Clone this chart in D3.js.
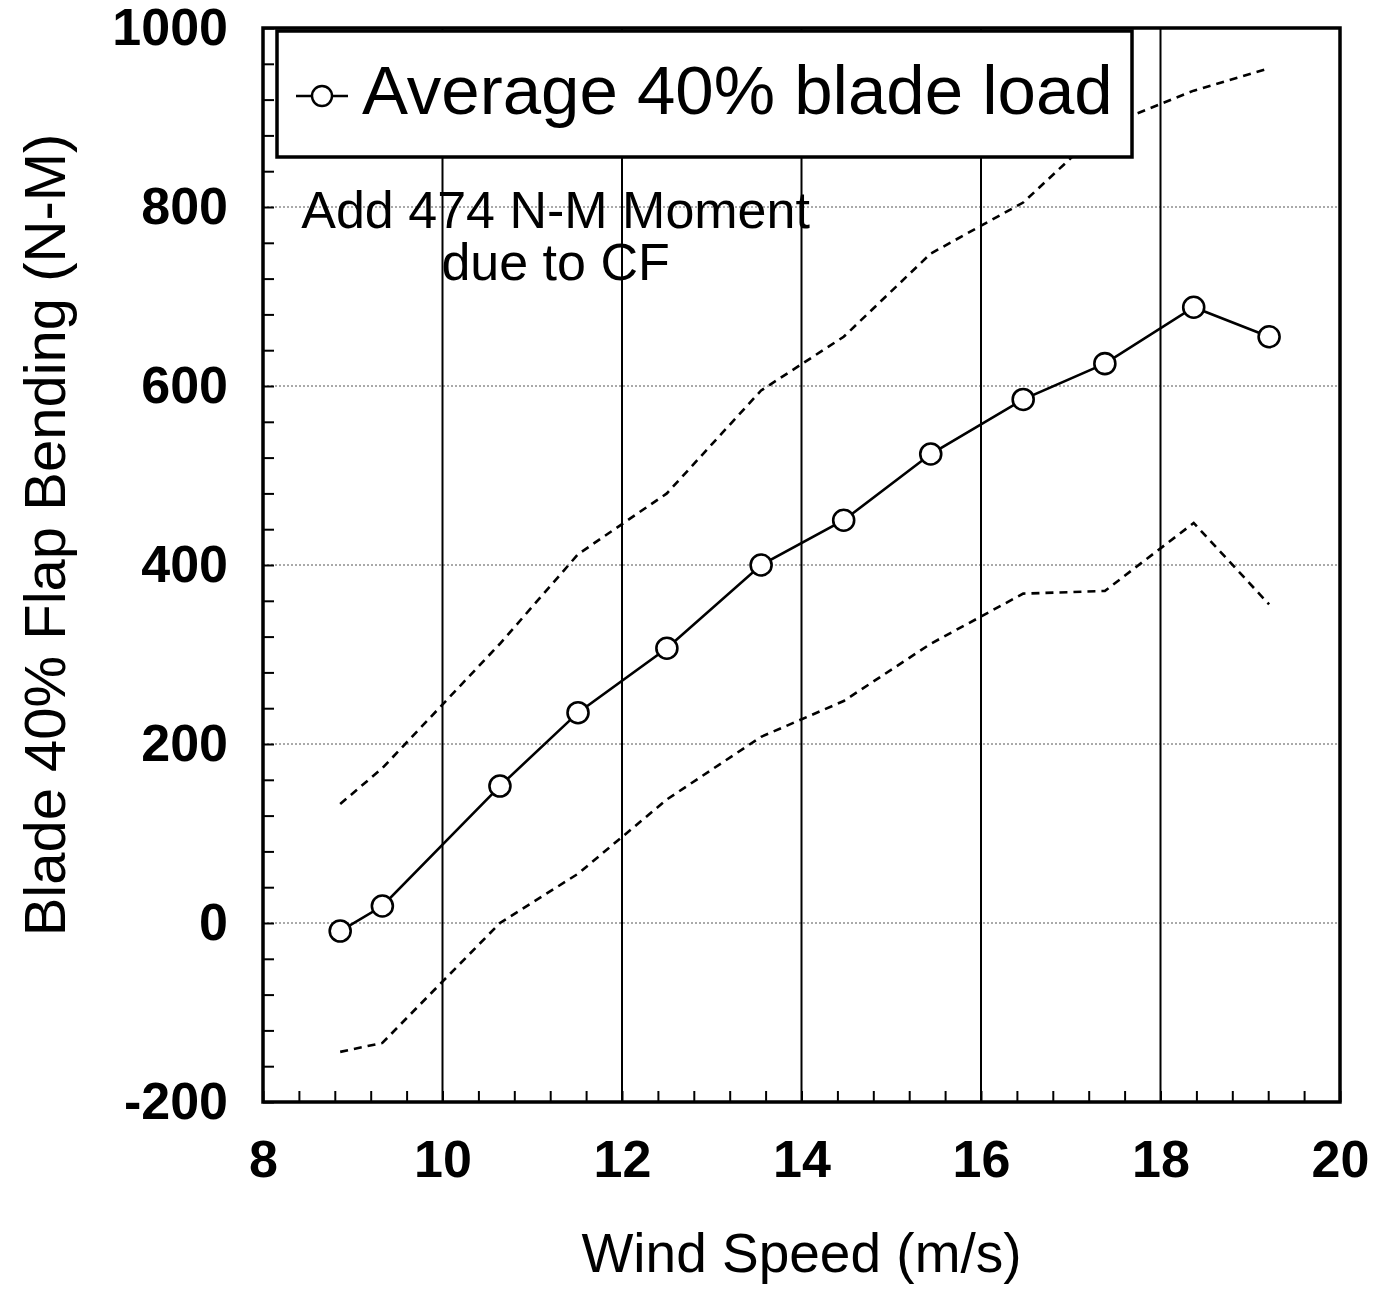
<!DOCTYPE html>
<html>
<head>
<meta charset="utf-8">
<script src="https://cdn.jsdelivr.net/npm/d3@7"></script>
<style>
  body { margin: 0; background: #fff; }
  text { font-family: "Liberation Sans", Arial, sans-serif; fill: #000; }
</style>
</head>
<body>
<div id="chart"></div>
<script>
// data
var windSpeed = [8.86, 9.33, 10.64, 11.51, 12.5, 13.55, 14.47, 15.44, 16.47, 17.38, 18.37, 19.21];
var avgLoad = [-9, 19, 153, 235, 307, 400, 450, 524, 585, 625, 688, 655];
var upperLoad = [133, 173, 312, 412, 480, 595, 655, 748, 805, 890, 930, 955];
var lowerLoad = [-144, -134, 0, 55, 138, 208, 248, 312, 368, 371, 447, 356];

var xTicks = [8, 10, 12, 14, 16, 18, 20];
var yTicks = [-200, 0, 200, 400, 600, 800, 1000];

// set the dimensions and margins of the graph
var margin = { top: 28, right: 34, bottom: 189, left: 263 };
var totalW = 1374, totalH = 1291;
var width = totalW - margin.left - margin.right;
var height = totalH - margin.top - margin.bottom;

var svg = d3
  .select("#chart")
  .append("svg")
  .attr("width", totalW)
  .attr("height", totalH)
  .append("g")
  .attr("transform", "translate(" + margin.left + "," + margin.top + ")");

var x = d3.scaleLinear().domain([8, 20]).range([0, width]);
var y = d3.scaleLinear().domain([-200, 1000]).range([height, 0]);

// horizontal dotted grid
svg
  .selectAll(".hgrid")
  .data(yTicks.filter(function (d) { return d > -200 && d < 1000; }))
  .enter()
  .append("line")
  .attr("class", "hgrid")
  .attr("x1", 0)
  .attr("x2", width)
  .attr("y1", function (d) { return y(d); })
  .attr("y2", function (d) { return y(d); })
  .attr("stroke", "#555")
  .attr("stroke-width", 1)
  .attr("stroke-dasharray", "2,2");

// vertical solid grid
svg
  .selectAll(".vgrid")
  .data(xTicks.filter(function (d) { return d > 8 && d < 20; }))
  .enter()
  .append("line")
  .attr("class", "vgrid")
  .attr("x1", function (d) { return x(d); })
  .attr("x2", function (d) { return x(d); })
  .attr("y1", 0)
  .attr("y2", height)
  .attr("stroke", "#000")
  .attr("stroke-width", 2);

// minor ticks (inside)
var xMinor = d3.range(8, 20.001, 0.4);
var yMinor = d3.range(-200, 1000.001, 40);

svg
  .append("g")
  .attr("transform", "translate(0," + height + ")")
  .call(d3.axisBottom(x).tickValues(xMinor).tickSizeInner(-11).tickSizeOuter(0).tickFormat(""))
  .call(function (g) { g.select(".domain").remove(); })
  .selectAll("line")
  .attr("stroke-width", 2);

svg
  .append("g")
  .call(d3.axisLeft(y).tickValues(yMinor).tickSizeInner(-11).tickSizeOuter(0).tickFormat(""))
  .call(function (g) { g.select(".domain").remove(); })
  .selectAll("line")
  .attr("stroke-width", 2);

// tick labels
svg
  .append("g")
  .attr("transform", "translate(0," + height + ")")
  .call(d3.axisBottom(x).tickValues(xTicks).tickSize(0).tickPadding(38).tickFormat(function (d) { return String(d); }))
  .call(function (g) { g.select(".domain").remove(); })
  .selectAll("text")
  .style("font-size", "52px")
  .style("font-weight", "bold")
  .style("font-family", "Liberation Sans, Arial, sans-serif")
  .attr("fill", "#000");

svg
  .append("g")
  .call(d3.axisLeft(y).tickValues(yTicks).tickSize(0).tickPadding(35).tickFormat(function (d) { return String(d); }))
  .call(function (g) { g.select(".domain").remove(); })
  .selectAll("text")
  .style("font-size", "52px")
  .style("font-weight", "bold")
  .style("font-family", "Liberation Sans, Arial, sans-serif")
  .attr("fill", "#000");

// dashed envelope lines
var bandLine = function (vals) {
  return d3
    .line()
    .x(function (d, i) { return x(windSpeed[i]); })
    .y(function (d) { return y(d); })(vals);
};

[upperLoad, lowerLoad].forEach(function (vals) {
  svg
    .append("path")
    .attr("d", bandLine(vals))
    .attr("fill", "none")
    .attr("stroke", "#000")
    .attr("stroke-width", 2.6)
    .attr("stroke-dasharray", "8,6");
});

// average line with circles
svg
  .append("path")
  .attr("d", bandLine(avgLoad))
  .attr("fill", "none")
  .attr("stroke", "#000")
  .attr("stroke-width", 2.6);

svg
  .selectAll(".pt")
  .data(avgLoad)
  .enter()
  .append("circle")
  .attr("class", "pt")
  .attr("cx", function (d, i) { return x(windSpeed[i]); })
  .attr("cy", function (d) { return y(d); })
  .attr("r", 10.5)
  .attr("fill", "#fff")
  .attr("stroke", "#000")
  .attr("stroke-width", 2.6);

// frame
svg
  .append("rect")
  .attr("x", 0)
  .attr("y", 0)
  .attr("width", width)
  .attr("height", height)
  .attr("fill", "none")
  .attr("stroke", "#000")
  .attr("stroke-width", 3.5);

// legend
var legend = svg.append("g").attr("transform", "translate(14,3)");
legend
  .append("rect")
  .attr("width", 855)
  .attr("height", 126)
  .attr("fill", "#fff")
  .attr("stroke", "#000")
  .attr("stroke-width", 3.5);
legend
  .append("line")
  .attr("x1", 19)
  .attr("x2", 71)
  .attr("y1", 65)
  .attr("y2", 65)
  .attr("stroke", "#000")
  .attr("stroke-width", 2.4);
legend
  .append("circle")
  .attr("cx", 45)
  .attr("cy", 65)
  .attr("r", 10)
  .attr("fill", "#fff")
  .attr("stroke", "#000")
  .attr("stroke-width", 2.4);
legend
  .append("text")
  .attr("x", 85)
  .attr("y", 83)
  .style("font-size", "69px")
  .text("Average 40% blade load");

// annotation
var noteX = x(11.26);
var note = svg
  .append("text")
  .attr("x", noteX)
  .attr("text-anchor", "middle")
  .style("font-size", "52px");
note.append("tspan").attr("x", noteX).attr("y", 200).text("Add 474 N-M Moment");
note.append("tspan").attr("x", noteX).attr("y", 252).text("due to CF");

// axis titles
svg
  .append("text")
  .attr("x", width / 2)
  .attr("y", height + 170)
  .attr("text-anchor", "middle")
  .style("font-size", "55px")
  .text("Wind Speed (m/s)");

svg
  .append("text")
  .attr("transform", "rotate(-90)")
  .attr("x", -(535 - margin.top))
  .attr("y", -(263 - 65))
  .attr("text-anchor", "middle")
  .style("font-size", "58px")
  .text("Blade 40% Flap Bending (N-M)");
</script>
</body>
</html>
